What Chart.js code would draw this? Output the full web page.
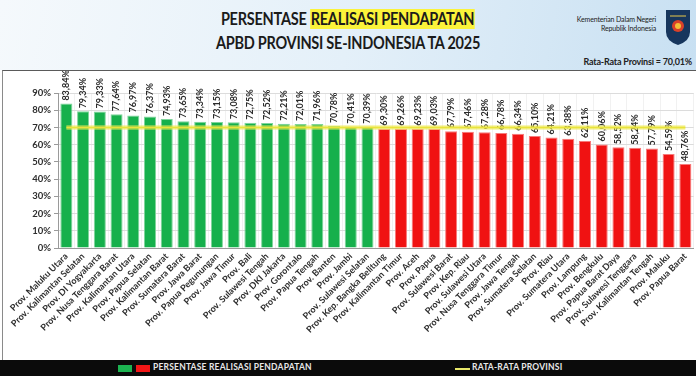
<!DOCTYPE html>
<html>
<head>
<meta charset="utf-8">
<script src="https://cdn.jsdelivr.net/npm/chart.js@4.4.1/dist/chart.umd.min.js"></script>
<style>
  body { margin: 0; width: 696px; height: 376px; overflow: hidden; background: #fff; position: relative; font-family: Lato, "Open Sans", sans-serif; }
  #header { position: absolute; left: 0; top: 0; width: 696px; height: 70px;
    background: linear-gradient(100deg, #f5f9fc 0%, #e4f0f9 50%, #c8e0f2 100%); }
  .judul { position: absolute; left: 0; width: 696px; text-align: center; font-weight: 700; font-size: 16.5px; color: #1b1b1b; letter-spacing: -0.3px; transform: scaleX(0.88); transform-origin: 348px 0; }
  .judul mark { background: #fbf33a; color: #1b1b1b; padding: 0 1px; }
  #kemen { position: absolute; right: 40px; top: 15px; text-align: right; font-size: 7px; line-height: 9px; color: #222; letter-spacing: -0.15px; }
  #logo { position: absolute; left: 665px; top: 8px; }
  #rata { position: absolute; right: 4px; top: 56px; font-size: 9px; font-weight: 700; color: #222; letter-spacing: -0.2px; }
  #box { position: absolute; left: 2px; top: 70px; width: 694px; height: 290px; border-top: 1px solid #5a5a5a; border-left: 1px solid #8a8a8a; box-sizing: border-box; background: #fff; }
  #legend { position: absolute; left: 0; top: 360px; width: 696px; height: 16px; background: #0b0b0b; }
  #legend span { position: absolute; }
  .sq { top: 5px; width: 14px; height: 7px; }
  .ln { top: 8px; width: 15px; height: 2px; background: #e8e86a; }
  .txt { top: 2px; font-size: 8.5px; font-weight: 700; color: #e8e8e8; letter-spacing: 0.2px; }
</style>
</head>
<body>
<div id="header">
  <div class="judul" style="top:9px">PERSENTASE <mark>REALISASI PENDAPATAN</mark></div>
  <div class="judul" style="top:33px">APBD PROVINSI SE-INDONESIA TA 2025</div>
  <div id="kemen">Kementerian Dalam Negeri<br>Republik Indonesia</div>
  <svg id="logo" width="26" height="38" viewBox="0 0 26 38">
    <path d="M1 2 H25 V24 Q25 33 13 37 Q1 33 1 24 Z" fill="#17365d"/>
    <circle cx="13" cy="18" r="6" fill="#d8412a"/>
    <circle cx="13" cy="18" r="3" fill="#f2c037"/>
    <path d="M5 8 L21 8" stroke="#e9c94a" stroke-width="1"/>
  </svg>
  <div id="rata">Rata-Rata Provinsi = 70,01%</div>
</div>
<div id="box"><canvas id="grafik"></canvas></div>
<div id="legend">
  <span class="sq" style="left:118px;background:#1cb351"></span>
  <span class="sq" style="left:136px;background:#f21616"></span>
  <span class="txt" style="left:153px">PERSENTASE REALISASI PENDAPATAN</span>
  <span class="ln" style="left:455px"></span>
  <span class="txt" style="left:472px">RATA-RATA PROVINSI</span>
</div>
<script>
// data realisasi pendapatan per provinsi (%)
const provinsi = [
  "Prov. Maluku Utara", "Prov. Kalimantan Selatan", "Prov. DI Yogyakarta", "Prov. Nusa Tenggara Barat",
  "Prov. Kalimantan Utara", "Prov. Papua Selatan", "Prov. Kalimantan Barat", "Prov. Sumatera Barat",
  "Prov. Jawa Barat", "Prov. Papua Pegunungan", "Prov. Jawa Timur", "Prov. Bali",
  "Prov. Sulawesi Tengah", "Prov. DKI Jakarta", "Prov. Gorontalo", "Prov. Papua Tengah",
  "Prov. Banten", "Prov. Jambi", "Prov. Sulawesi Selatan", "Prov. Kep. Bangka Belitung",
  "Prov. Kalimantan Timur", "Prov. Aceh", "Prov. Papua", "Prov. Sulawesi Barat",
  "Prov. Kep. Riau", "Prov. Sulawesi Utara", "Prov. Nusa Tenggara Timur", "Prov. Jawa Tengah",
  "Prov. Sumatera Selatan", "Prov. Riau", "Prov. Sumatera Utara", "Prov. Lampung",
  "Prov. Bengkulu", "Prov. Papua Barat Daya", "Prov. Sulawesi Tenggara", "Prov. Kalimantan Tengah",
  "Prov. Maluku", "Prov. Papua Barat"
];
const realisasi = [
  83.84, 79.34, 79.33, 77.64, 76.97, 76.37, 74.93, 73.65, 73.34, 73.15,
  73.08, 72.75, 72.52, 72.21, 72.01, 71.96, 70.78, 70.41, 70.39, 69.30,
  69.26, 69.23, 69.03, 67.79, 67.46, 67.28, 66.78, 66.34, 65.10, 64.21,
  63.38, 62.11, 60.06, 58.52, 58.24, 57.79, 54.59, 48.76
];
const rataRata = 70.01;
const yTicks = [0, 10, 20, 30, 40, 50, 60, 70, 80, 90];

const HIJAU = "#16b04c";
const MERAH = "#f01212";

function persen(v) {
  return v.toFixed(2).replace(".", ",") + "%";
}

// garis rata-rata + label nilai di atas batang
const labelNilai = {
  id: "labelNilai",
  afterDatasetsDraw(chart) {
    const { ctx, scales: { x, y } } = chart;
    const meta = chart.getDatasetMeta(0);

    ctx.save();
    ctx.font = "700 9px Lato";
    ctx.fillStyle = "#2b2b2b";
    ctx.textAlign = "left";
    ctx.textBaseline = "middle";
    meta.data.forEach((bar, i) => {
      ctx.save();
      ctx.translate(bar.x, bar.y - 3);
      ctx.rotate(-Math.PI / 2);
      ctx.fillText(persen(realisasi[i]), 0, 0);
      ctx.restore();
    });

    const yr = y.getPixelForValue(rataRata);
    ctx.lineCap = "butt";
    ctx.strokeStyle = "rgba(240,236,90,0.45)";
    ctx.lineWidth = 5;
    ctx.beginPath();
    ctx.moveTo(x.getPixelForValue(0), yr);
    ctx.lineTo(x.getPixelForValue(provinsi.length - 1), yr);
    ctx.stroke();
    ctx.strokeStyle = "#e9e43a";
    ctx.lineWidth = 2;
    ctx.stroke();
    ctx.restore();
  }
};

document.addEventListener("DOMContentLoaded", function () {
  const ctx = document.getElementById("grafik").getContext("2d");

  new Chart(ctx, {
    type: "bar",
    data: {
      labels: provinsi,
      datasets: [
        {
          data: realisasi,
          backgroundColor: realisasi.map((v) => (v >= rataRata ? HIJAU : MERAH)),
          borderColor: realisasi.map((v) => (v >= rataRata ? "#7fd59b" : "#f77a7a")),
          borderWidth: 1,
          borderSkipped: "bottom",
          categoryPercentage: 1,
          barPercentage: 0.72,
        },
      ],
    },
    options: {
      responsive: true,
      maintainAspectRatio: false,
      animation: false,
      layout: { padding: { top: 22, right: 1, left: 0, bottom: 0 } },
      plugins: {
        legend: { display: false },
        tooltip: { enabled: false },
      },
      scales: {
        x: {
          grid: { display: true, color: "#f1f1f1", drawTicks: false },
          border: { display: true, color: "#9a9a9a" },
          ticks: {
            autoSkip: false,
            minRotation: 45,
            maxRotation: 45,
            padding: 3,
            color: "#2e2e2e",
            font: { family: "Lato", size: 9, weight: "bold" },
          },
          afterFit: (s) => { s.height = 112; },
        },
        y: {
          min: 0,
          max: 90,
          afterBuildTicks: (s) => { s.ticks = yTicks.map((v) => ({ value: v })); },
          grid: { color: "#dcdcdc", tickLength: 4, tickColor: "#9a9a9a" },
          border: { display: true, color: "#9a9a9a" },
          ticks: {
            padding: 3,
            color: "#2e2e2e",
            font: { family: "Lato", size: 9.5, weight: "bold" },
            callback: (v) => v + "%",
          },
          afterFit: (s) => { s.width = 55; },
        },
      },
    },
    plugins: [labelNilai],
  });
});
</script>
</body>
</html>
